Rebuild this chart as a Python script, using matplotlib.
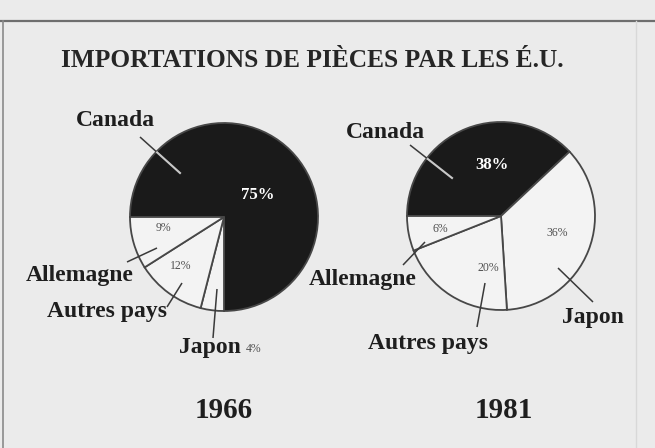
import matplotlib.pyplot as plt

W, H = 655, 448

# =========================
# DATA
# =========================
countries = ["Canada", "Japon", "Autres pays", "Allemagne"]
shares_1966 = [75, 4, 12, 9]
shares_1981 = [38, 36, 20, 6]
years = ["1966", "1981"]
title = "IMPORTATIONS DE PIÈCES PAR LES É.U."

ink = "#1a1a1a"
paper = "#ebebeb"
light = "#f3f3f3"
edge = "#474747"
slice_colors = [ink, light, light, light]

plt.rcParams["font.family"] = ["Liberation Serif", "DejaVu Serif"]


def Y(y):
    # layout positions are measured from the top of the picture
    return H - y


fig = plt.figure(figsize=(W / 100, H / 100), dpi=100)
fig.patch.set_facecolor(paper)
ax = fig.add_axes([0, 0, 1, 1])
ax.set_facecolor(paper)

# label layout per pie: country -> (text pos, leader start, leader end)
layouts = [
    {
        "center": (224, 217),
        "labels": {
            "Canada": ((115, 120), (140, 137), (180, 173)),
            "Allemagne": ((80, 275), (127, 262), (157, 248)),
            "Autres pays": ((107, 312), (167, 307), (182, 283)),
            "Japon": ((210, 348), (213, 338), (217, 289)),
        },
        "pct": {
            "Canada": (258, 195),
            "Allemagne": (163, 228),
            "Autres pays": (181, 266),
            "Japon": (254, 349),
        },
        "year_pos": (224, 411),
    },
    {
        "center": (501, 216),
        "labels": {
            "Canada": ((385, 132), (410, 145), (452, 178)),
            "Allemagne": ((363, 280), (403, 265), (425, 242)),
            "Autres pays": ((428, 343), (477, 327), (485, 283)),
            "Japon": ((593, 317), (593, 302), (558, 268)),
        },
        "pct": {
            "Canada": (492, 165),
            "Allemagne": (440, 229),
            "Autres pays": (488, 268),
            "Japon": (557, 233),
        },
        "year_pos": (504, 411),
    },
]

for shares, year, lay in zip([shares_1966, shares_1981], years, layouts):
    cx, cy = lay["center"]
    wedges, _ = ax.pie(shares, colors=slice_colors, startangle=180,
                       counterclock=False, center=(cx, Y(cy)), radius=94,
                       frame=True,
                       wedgeprops=dict(edgecolor=edge, linewidth=1.3))

    for name, val in zip(countries, shares):
        (tx, ty), (x0, y0), (x1, y1) = lay["labels"][name]
        ax.text(tx, Y(ty), name, ha="center", va="center", fontsize=17,
                fontweight="bold", color="#1e1e1e")
        ax.plot([x0, x1], [Y(y0), Y(y1)], color="#3a3a3a", lw=1.1,
                solid_capstyle="butt", zorder=3)
        if name == "Canada":
            # the part of the leader over the dark slice shows light
            seg, = ax.plot([x0, x1], [Y(y0), Y(y1)], color="#c8c8c8",
                           lw=1.5, zorder=4)
            seg.set_clip_path(wedges[0])

        px_, py_ = lay["pct"][name]
        if name == "Canada":
            ax.text(px_, Y(py_), f"{val}%", ha="center", va="center",
                    fontsize=12, fontweight="bold", color="white")
        else:
            ax.text(px_, Y(py_), f"{val}%", ha="center", va="center",
                    fontsize=8.5, color="#505050")

    yx, yy = lay["year_pos"]
    ax.text(yx, Y(yy), year, ha="center", va="center", fontsize=21,
            fontweight="bold", color="#1e1e1e")

ax.text(312, Y(60), title, ha="center", va="center", fontsize=18.3,
        fontweight="bold", color="#262626")

# frame of the clipping
ax.plot([0, W], [Y(21), Y(21)], color="#6e6e6e", lw=1.6)
ax.plot([3, 3], [Y(21), 0], color="#8a8a8a", lw=1.2)
ax.plot([636, 636], [Y(21), 0], color="#d8d8d8", lw=1.0)

ax.set_xlim(0, W)
ax.set_ylim(0, H)
ax.axis("off")

fig.savefig("out.png", dpi=100, facecolor=paper)
